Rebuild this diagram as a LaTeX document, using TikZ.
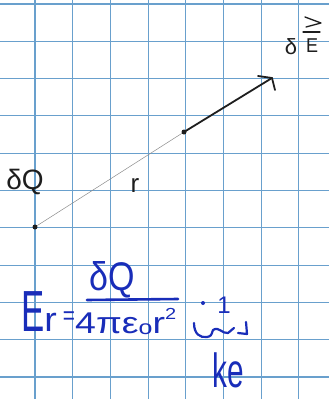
\documentclass[tikz,border=0pt]{standalone}
\usepackage{fontspec}
\setmainfont{Liberation Sans}
\definecolor{gridblue}{RGB}{105,160,205}
\definecolor{ink}{RGB}{25,45,185}
\definecolor{pen}{RGB}{30,30,30}
\tikzset{
  gridline/.style={draw=gridblue, line width=1.1pt},
  penline/.style={draw=pen, line width=1.8pt, line cap=round, line join=round},
  inkline/.style={draw=ink, line width=2pt, line cap=round, line join=round},
  faint/.style={draw=black!45, line width=0.5pt},
  blacktext/.style={text=pen, inner sep=0pt},
  inktext/.style={text=ink, inner sep=0pt},
  dotmark/.style={circle, fill=pen, inner sep=0pt, minimum size=5pt}
}
\begin{document}
\begin{tikzpicture}[x=1pt,y=-1pt]
\useasboundingbox (0,0) rectangle (329,399);
\fill[white] (0,0) rectangle (329,399);
% grid
\foreach \i in {0,...,7} {
  \draw[gridline] ({35+37.7*\i},0) -- ({35+37.7*\i},399);
}
\foreach \j in {0,...,10} {
  \draw[gridline] (0,{4+37.3*\j}) -- (329,{4+37.3*\j});
}
% points
\node[dotmark] (Q) at (35,227) {};
\node[dotmark] (P) at (184,132) {};
\coordinate (tip) at (272,78);
\coordinate (barbA) at (258,76);
\coordinate (barbB) at (275,90);
\draw[faint] (Q) -- (P);
\draw[penline] (P.center) -- (tip);
\draw[penline] (barbA) -- (tip) -- (barbB);
% labels
\node[blacktext] (dQ) at (25,182) {\fontsize{28}{28}\selectfont δQ};
\node[blacktext] (r) at (135,186) {\fontsize{26}{26}\selectfont r};
\node[blacktext, anchor=base] (dE) at (291,54) {\fontsize{22}{22}\selectfont δ};
\node[blacktext, anchor=base] (E) at (312,52) {\scalebox{0.9}[1]{\fontsize{20}{20}\selectfont E}};
\coordinate (vb1) at (303,32);
\coordinate (vb2) at (320,32);
\coordinate (vh1) at (305,17);
\coordinate (vh2) at (321,23);
\coordinate (vh3) at (306,27);
\draw[penline, line width=1.3pt] (vb1) -- (vb2);
\draw[penline, line width=1.3pt] (vh1) -- (vh2) -- (vh3);
% formula
\node[inktext, anchor=base west] (Er) at (21,331) {\scalebox{0.6}[1]{\fontsize{58}{58}\selectfont E}\scalebox{1.1}[1]{\fontsize{34}{34}\selectfont r}};
\node[inktext] (eq) at (69,318) {\scalebox{0.8}[1]{\fontsize{26}{26}\selectfont =}};
\node[inktext] (num) at (112,280) {\scalebox{0.85}[1]{\fontsize{40}{40}\selectfont δQ}};
\coordinate (barL) at (87,300);
\coordinate (barR) at (178,299);
\draw[inkline, line width=2.6pt] (barL) -- (barR);
\node[inktext, anchor=base west] (den) at (75,333) {\scalebox{1.25}[1]{\fontsize{30}{30}\selectfont 4πε\raisebox{-1pt}{\fontsize{20}{20}\selectfont o}r\raisebox{14pt}{\fontsize{16}{16}\selectfont 2}}};
\node[circle, fill=ink, inner sep=0pt, minimum size=4pt] (dot) at (203,303) {};
\node[inktext, anchor=base] (one) at (224,313) {\fontsize{24}{24}\selectfont 1};
\coordinate (s0) at (194,323);
\coordinate (s1) at (207,337);
\coordinate (s2) at (213,330);
\coordinate (s3) at (228,333);
\coordinate (s4) at (234,328);
\coordinate (s5) at (246,322);
\coordinate (s6) at (247,334);
\coordinate (s7) at (238,333);
\draw[inkline, line width=2.2pt] (s0) .. controls (194,334) and (200,338) .. (s1) .. controls (211,336) .. (s2) .. controls (219,326) and (222,334) .. (s3) .. controls (231,331) .. (s4);
\draw[inkline, line width=2.2pt] (s5) -- (s6) -- (s7);
\node[inktext, anchor=base] (ke) at (228,387) {\scalebox{0.62}[1]{\fontsize{48}{48}\selectfont ke}};
\end{tikzpicture}
\end{document}
